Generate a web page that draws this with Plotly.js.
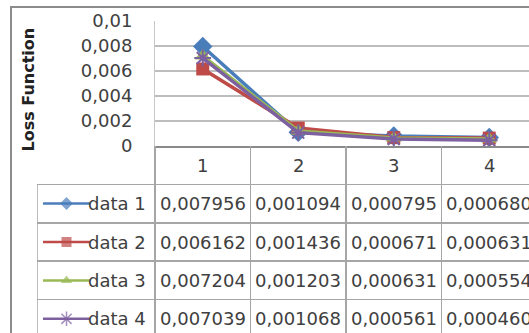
<!DOCTYPE html>
<html><head><meta charset="utf-8">
<script src="https://cdn.plot.ly/plotly-3.0.1.min.js"></script>
<style>html,body{margin:0;padding:0;overflow:hidden;background:#fff;width:529px;height:333px}#c{width:580px;height:350px}</style>
</head><body><div id="c"></div>
<script>
const categories = [1, 2, 3, 4];
const seriesNames = ['data 1', 'data 2', 'data 3', 'data 4'];
const data1 = [0.007956, 0.001094, 0.000795, 0.000680];
const data2 = [0.006162, 0.001436, 0.000671, 0.000631];
const data3 = [0.007204, 0.001203, 0.000631, 0.000554];
const data4 = [0.007039, 0.001068, 0.000561, 0.000460];
const yTicks = [0, 0.002, 0.004, 0.006, 0.008, 0.01];
const yTitle = 'Loss Function';

const series = [data1, data2, data3, data4];
const colors = ['#4A7EBB', '#BE4B48', '#98B954', '#7D60A0'];
const symbols = ['diamond', 'square', 'triangle-up', 'asterisk-open'];
const sizes = [15, 13, 14, 14];
const legSizes = [10, 10, 10, 12];

const W = 580, H = 350;
const px = v => v / W, py = v => (H - v) / H;
const legLeft = 0.5 - (155 - 37) / 95.5;

const traces = [];
series.forEach((s, i) => {
  traces.push({
    x: categories, y: s, type: 'scatter', mode: 'lines+markers', name: seriesNames[i],
    xaxis: 'x', yaxis: 'y', showlegend: false,
    line: {color: colors[i], width: 3.5},
    marker: {symbol: symbols[i], size: sizes[i], color: colors[i], line: {color: colors[i], width: i === 3 ? 2 : 0}}
  });
});
// legend samples inside the data table
series.forEach((s, i) => {
  const xa = legLeft + 6 / 95.5, xb = legLeft + 53 / 95.5;
  traces.push({
    x: [xa, (xa + xb) / 2, xb], y: [i + 1, i + 1, i + 1], type: 'scatter', mode: 'lines+markers',
    xaxis: 'x2', yaxis: 'y2', showlegend: false, hoverinfo: 'skip',
    line: {color: colors[i], width: 2.5},
    marker: {symbol: symbols[i], size: [0, legSizes[i], 0], color: colors[i], line: {color: colors[i], width: i === 3 ? 1.5 : 0}}
  });
});

const fnt = {family: 'DejaVu Sans', size: 18, color: '#404040'};
const ann = [];
categories.forEach((c, j) => {
  ann.push({xref: 'x2', yref: 'y2', x: c, y: 0, text: String(c), showarrow: false, font: fnt, xanchor: 'center', yanchor: 'middle'});
  series.forEach((s, i) => {
    ann.push({xref: 'x2', yref: 'y2', x: c, y: i + 1, text: s[j].toFixed(6).replace('.', ','), showarrow: false, font: fnt, xanchor: 'center', yanchor: 'middle'});
  });
});
seriesNames.forEach((n, i) => {
  ann.push({xref: 'x2', yref: 'y2', x: 0.5 - 7 / 95.5, y: i + 1, text: n, showarrow: false, font: fnt, xanchor: 'right', yanchor: 'middle'});
});
ann.push({xref: 'paper', yref: 'paper', x: px(28.5), y: py(90), text: '<b>' + yTitle + '</b>', textangle: -90, showarrow: false,
  font: {family: 'DejaVu Sans', size: 16, color: '#222'}, xanchor: 'center', yanchor: 'middle'});

const layout = {
  width: W, height: H, margin: {l: 0, r: 0, t: 0, b: 0},
  paper_bgcolor: '#fff', plot_bgcolor: '#fff', separators: ', ',
  showlegend: false,
  xaxis: {domain: [px(155), px(537)], range: [0.5, 4.5], showgrid: false, zeroline: false, showticklabels: false,
    showline: true, linecolor: '#8a8a8a', linewidth: 1.5, anchor: 'y', fixedrange: true},
  yaxis: {domain: [py(146), py(21)], range: [0, 0.01], tickvals: yTicks, showgrid: true, gridcolor: '#bdbdbd', gridwidth: 1.5,
    zeroline: false, showline: true, linecolor: '#c8c8c8', linewidth: 1, ticks: '', ticklabelstandoff: 18,
    tickfont: fnt, anchor: 'x'},
  xaxis2: {domain: [px(37), px(537)], range: [legLeft, 4.5], tickvals: [0.5, 1.5, 2.5, 3.5], showticklabels: false, ticks: '',
    showgrid: true, gridcolor: '#a6a6a6', gridwidth: 1.5, zeroline: false, showline: false, anchor: 'y2'},
  yaxis2: {domain: [py(338), py(146)], range: [4.5, -0.5], tickvals: [0.5, 1.5, 2.5, 3.5, 4.5], showticklabels: false, ticks: '',
    showgrid: true, gridcolor: '#a6a6a6', gridwidth: 1.5, zeroline: false, showline: false, anchor: 'x2'},
  shapes: [
    {type: 'line', xref: 'x2', yref: 'y2', x0: legLeft, x1: legLeft, y0: 0.5, y1: 4.5, line: {color: '#a6a6a6', width: 1.5}},
    {type: 'rect', xref: 'paper', yref: 'paper', x0: px(11), x1: 1.1, y0: -0.1, y1: py(7), line: {color: '#8c8c8c', width: 2}}
  ],
  annotations: ann
};
Plotly.newPlot('c', traces, layout, {staticPlot: true});
</script></body></html>
